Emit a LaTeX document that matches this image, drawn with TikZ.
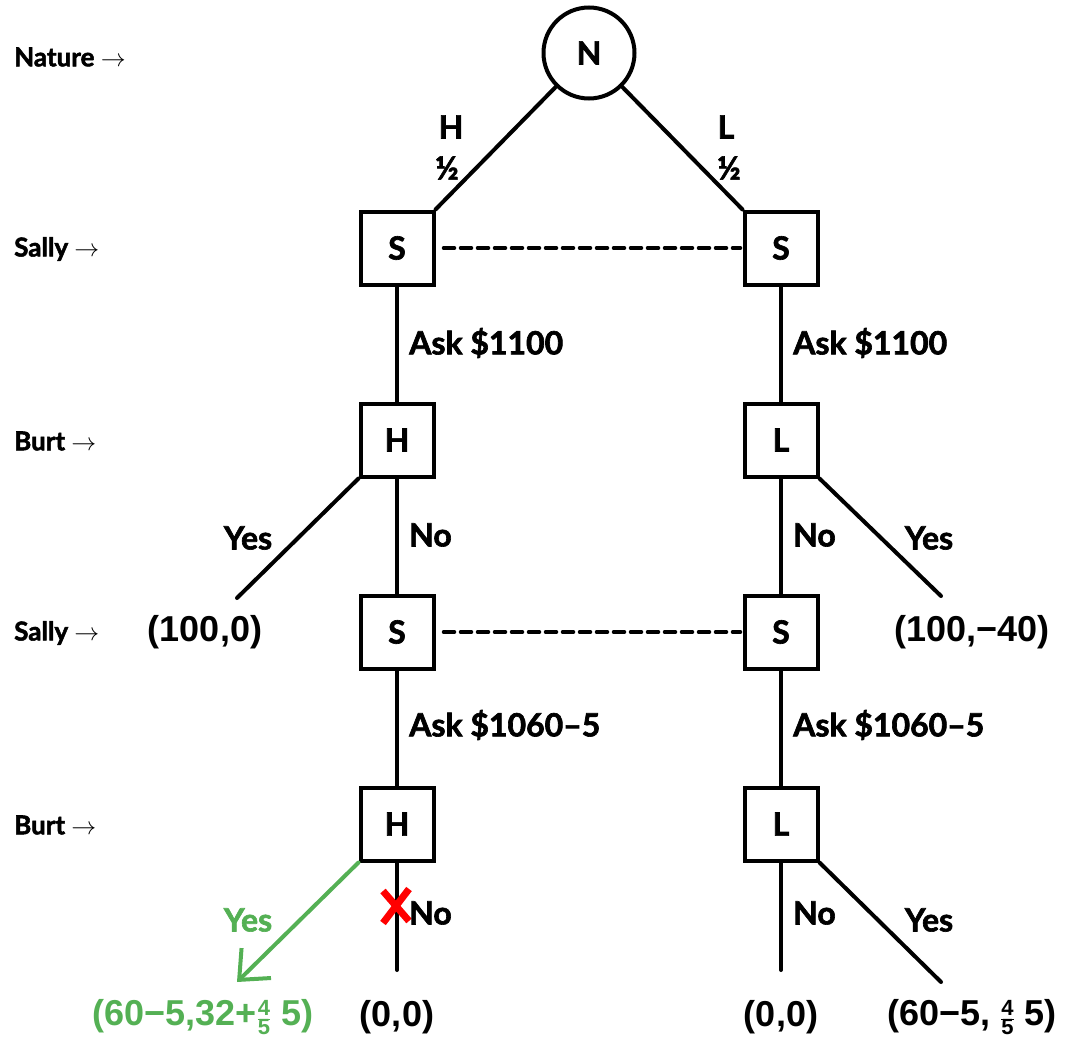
\documentclass[tikz,border=0pt]{standalone}
\usepackage{fontspec}
\setmainfont{Lato}[BoldFeatures={FakeBold=2}]
\newfontfamily\payfont{Liberation Sans}
\usetikzlibrary{arrows.meta}
\definecolor{ygreen}{RGB}{84,176,84}
\newcommand{\smallfr}[2]{\ensuremath{\frac{\hbox{\fontsize{22}{22}\selectfont #1}}{\hbox{\fontsize{22}{22}\selectfont #2}}}}
\newcommand{\sidearr}{{\fontsize{30}{30}\selectfont$\rightarrow$}}
\begin{document}
\begin{tikzpicture}[x=1pt,y=-1pt,
  every node/.style={font=\fontsize{32}{33}\selectfont\bfseries},
  box/.style={draw,line width=4pt,minimum size=73pt,inner sep=0pt},
  nat/.style={draw,circle,line width=4pt,minimum size=91pt,inner sep=0pt},
  edge/.style={line width=4pt},
  info/.style={line width=3.5pt,dash pattern=on 11pt off 6pt},
  lab/.style={inner sep=0pt},
  side/.style={anchor=west,inner sep=0pt,font=\fontsize{26}{28}\selectfont\bfseries},
  pay/.style={inner sep=0pt,font=\fontsize{36}{37}\payfont\bfseries},
  line cap=round]
\useasboundingbox (0,0) rectangle (1066,1038);
% side labels
\node[side] (lN) at (14,57) {Nature \sidearr};
\node[side] (lS1) at (14,249) {Sally \sidearr};
\node[side] (lB1) at (14,441) {Burt \sidearr};
\node[side] (lS2) at (14,633) {Sally \sidearr};
\node[side] (lB2) at (14,825) {Burt \sidearr};
% nodes
\node[nat] (N) at (589,53) {N};
\node[box] (SL1) at (397,248) {S};
\node[box] (SR1) at (781,248) {S};
\node[box] (HL1) at (397,440) {H};
\node[box] (LR1) at (781,440) {L};
\node[box] (SL2) at (397,632) {S};
\node[box] (SR2) at (781,632) {S};
\node[box] (HL2) at (397,824) {H};
\node[box] (LR2) at (781,824) {L};
% edges
\draw[edge] (N) -- (SL1.north east);
\draw[edge] (N) -- (SR1.north west);
\draw[info] ([xshift=8pt]SL1.east) -- ([xshift=-2pt]SR1.west);
\draw[info] ([xshift=8pt]SL2.east) -- ([xshift=-2pt]SR2.west);
\draw[edge] (SL1) -- (HL1);
\draw[edge] (SR1) -- (LR1);
\draw[edge] (HL1) -- (SL2);
\draw[edge] (LR1) -- (SR2);
\draw[edge] (SL2) -- (HL2);
\draw[edge] (SR2) -- (LR2);
\coordinate (yL1) at (237,598);
\coordinate (yR1) at (941,596);
\coordinate (nL2) at (397,970);
\coordinate (nR2) at (781,970);
\coordinate (yL2) at (237,982);
\coordinate (yR2) at (941,982);
\draw[edge] (HL1.south west) -- (yL1);
\draw[edge] (LR1.south east) -- (yR1);
\draw[edge] (HL2) -- (nL2);
\draw[edge] (LR2) -- (nR2);
\draw[edge] (LR2.south east) -- (yR2);
\draw[edge,ygreen,-{Straight Barb[length=24pt,width=42pt,line width=4pt]}] (HL2.south west) -- (yL2);
% red cross
\coordinate (xc) at (396,906);
\draw[red,line width=7pt,line cap=butt] ([shift={(-13,-15)}]xc) -- ([shift={(13,15)}]xc);
\draw[red,line width=7pt,line cap=butt] ([shift={(13,-17)}]xc) -- ([shift={(-13,17)}]xc);
% branch labels
\node[lab] (tH) at (451,127) {H};
\node[lab] (pH) at (447,168) {½};
\node[lab] (tL) at (726,127) {L};
\node[lab] (pL) at (729,168) {½};
\node[lab,anchor=west] (a1) at (409,343) {Ask \$1100};
\node[lab,anchor=west] (a2) at (793,343) {Ask \$1100};
\node[lab,anchor=west] (n1) at (409,535) {No};
\node[lab,anchor=west] (n2) at (793,535) {No};
\node[lab] (y1) at (248,538) {Yes};
\node[lab] (y2) at (929,538) {Yes};
\node[lab,anchor=west] (a3) at (409,725) {Ask \$1060–5};
\node[lab,anchor=west] (a4) at (793,725) {Ask \$1060–5};
\node[lab,anchor=west] (n3) at (409,913) {No};
\node[lab,anchor=west] (n4) at (793,913) {No};
\node[lab,text=ygreen] (y3) at (248,920) {Yes};
\node[lab] (y4) at (929,920) {Yes};
% payoffs
\node[pay] (p1) at (205,632) {(100,0)};
\node[pay] (p2) at (972,632) {(100,−40)};
\node[pay,text=ygreen] (p3) at (203,1017) {(60−5,32+\smallfr{4}{5}\;5)};
\node[pay] (p4) at (397,1017) {(0,0)};
\node[pay] (p5) at (781,1017) {(0,0)};
\node[pay] (p6) at (972,1017) {(60−5, \smallfr{4}{5}\;5)};
\end{tikzpicture}
\end{document}
